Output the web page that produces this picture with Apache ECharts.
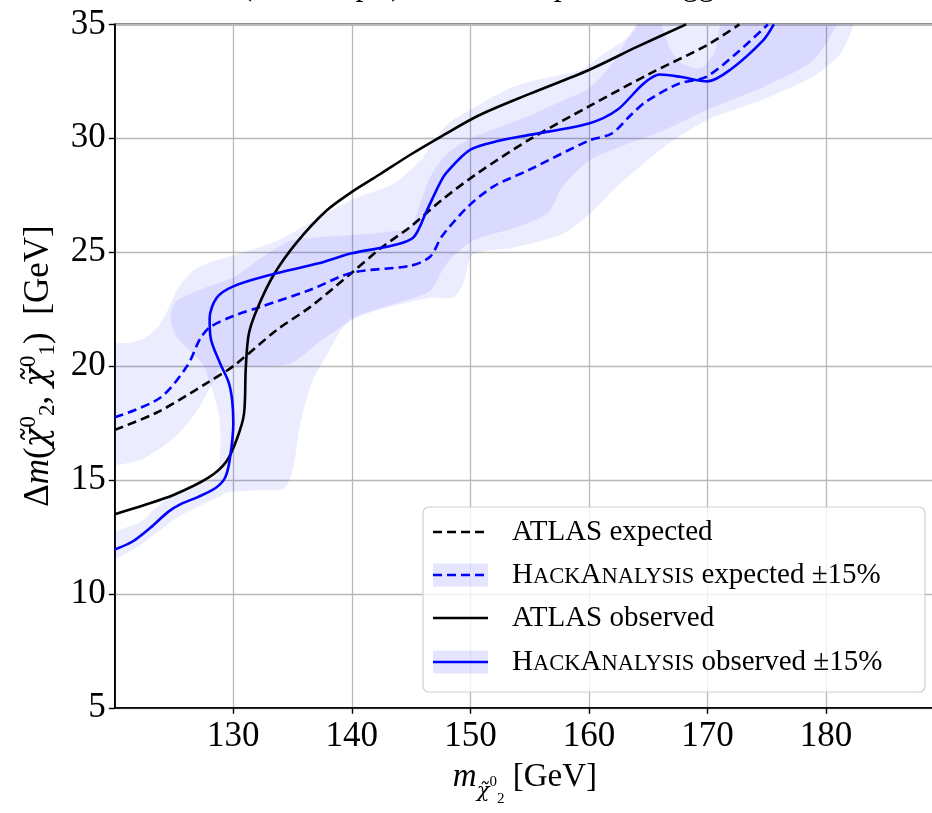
<!DOCTYPE html>
<html>
<head>
<meta charset="utf-8">
<script src="https://cdn.jsdelivr.net/npm/echarts@6/dist/echarts.min.js"></script>
<style>
  html, body { margin: 0; padding: 0; background: #ffffff; }
  #chart { width: 932px; height: 813px; }
</style>
</head>
<body>
<div id="chart"></div>
<script>
// Exclusion contours in the (m_chi20, delta m) plane, GeV.
const atlasExpected = [
  [120, 17.2], [123.7, 18.0], [127.9, 19.3], [130, 20.0], [133.7, 21.6], [136.5, 22.6],
  [140, 24.1], [142.5, 25.2], [144.9, 26.1], [147.6, 27.3], [150.7, 28.5], [155, 29.95],
  [160, 31.4], [165, 32.8], [170, 34.1], [172.7, 35.0]
];
const hackExpected = [
  [120, 17.75], [123.8, 18.6], [126.1, 20.0], [127.2, 21.2], [128, 21.7], [130, 22.2],
  [132.3, 22.6], [136.5, 23.35], [140, 24.1], [144.9, 24.4], [146.6, 24.8], [147.6, 25.7],
  [149.8, 27.0], [152, 27.9], [154.9, 28.6], [160, 29.9], [161.9, 30.2], [163.5, 31.0],
  [164.8, 31.6], [167.6, 32.4], [169.9, 32.7], [172.6, 33.8], [174.9, 34.9], [175.1, 35.0]
];
const atlasObserved = [
  [120, 13.5], [122.5, 13.9], [125, 14.35], [127.9, 15.1], [129.4, 15.8], [130.3, 16.8],
  [130.9, 17.9], [131.05, 19.9], [131.3, 21.4], [132, 22.5], [133.4, 24.0], [135.3, 25.4],
  [137.8, 26.8], [140, 27.65], [142.3, 28.4], [145, 29.3], [147.6, 30.1], [150.7, 31.0],
  [155, 31.95], [160, 33.0], [164, 34.0], [168.2, 35.0]
];
const hackObserved = [
  [120, 11.95], [121.5, 12.3], [123, 12.9], [124.5, 13.6], [125.6, 13.95], [127, 14.25],
  [128.5, 14.65], [129.3, 15.1], [129.7, 15.9], [130, 17.5], [129.9, 18.5],
  [129.6, 19.3], [128.9, 20.1], [128.1, 21.2], [128.0, 22.1], [128.6, 23.0], [130, 23.5],
  [133.1, 24.0], [137.1, 24.5], [140, 24.95], [143.5, 25.3], [145.2, 25.65], [146.3, 26.8],
  [147.4, 28.0], [148, 28.5], [150, 29.5], [152.5, 29.9], [155, 30.15], [160, 30.65],
  [162.4, 31.25], [164.6, 32.4], [166, 32.8], [167.7, 32.7], [170, 32.5], [171.9, 33.0],
  [174.7, 34.3], [175.6, 35.0]
];

// ±15% bands: upper edge (left to right) and lower edge (left to right).
const expBandUpper = [
  [119, 21.0], [120, 21.0], [121.5, 21.05], [122.6, 21.25], [123.6, 21.7], [124.4, 22.4],
  [125.3, 23.4], [126.6, 24.2], [128, 24.55], [130, 24.85], [133.7, 25.5], [136.5, 26.3],
  [140, 27.3], [143.5, 28.0], [145.8, 29.05], [148, 30.6], [150.8, 31.5], [153.6, 32.25],
  [155.9, 32.6], [159.3, 33.0], [161.2, 33.7], [163.5, 34.5], [164.6, 35.2], [172, 35.5],
  [182, 35.5]
];
const expBandLower = [
  [119, 15.6], [120, 15.65], [122.3, 15.9], [125.1, 16.9], [126.9, 18.0], [128.2, 19.2],
  [129, 19.9], [131, 20.0], [134.8, 20.1], [137.1, 21.0], [140, 22.0], [142.1, 22.45],
  [146.6, 23.0], [148.5, 23.0], [149.4, 23.6], [150.2, 24.9], [153.6, 25.2], [157.8, 25.8],
  [160.1, 26.7], [162.4, 27.9], [166.3, 29.6], [170, 30.8], [174.7, 31.7], [178.9, 32.7],
  [181.2, 33.7], [182.3, 34.9], [182.6, 35.5]
];
const obsBandUpper = [
  [119, 12.6], [120, 12.75], [122.3, 13.2], [123.5, 13.8], [125.1, 14.4], [127.3, 14.9],
  [128.6, 15.2], [128.9, 16.5], [128.8, 17.8], [128.2, 19.0], [127.4, 20.1], [125.2, 21.3],
  [124.7, 22.1], [125.1, 22.8], [126.9, 23.3], [130, 23.9], [132.5, 24.8], [134.8, 25.5],
  [137, 25.65], [140, 25.75], [143, 25.9], [144.9, 26.1], [145.8, 27.2], [146.6, 28.3],
  [148, 29.3], [150, 30.0], [153, 30.6], [155, 31.0], [158, 31.7], [160, 32.2], [162, 33.3],
  [163.5, 34.6], [164.5, 35.3], [165.8, 35.3], [166.8, 34.0], [167.8, 33.3], [169.5, 33.1],
  [170.6, 33.8], [171.5, 35.3], [181, 35.5]
];
const obsBandLower = [
  [119, 11.2], [120, 11.5], [122.3, 12.2], [125.1, 13.3], [127.3, 13.9], [128.9, 14.3],
  [129.5, 14.45], [132, 14.55], [134.2, 14.6], [134.9, 15.2], [135.3, 16.3], [135.6, 17.3],
  [136.2, 18.6], [136.8, 19.5], [137.9, 20.5], [139, 21.5], [140, 22.1], [142.1, 22.5],
  [144, 22.8], [146.6, 23.3], [148, 24.5], [150.2, 25.5], [153.6, 26.05], [156.5, 26.7],
  [157.8, 27.9], [160.1, 29.05], [163.5, 29.8], [166.3, 30.35], [170, 31.25], [174.7, 32.25],
  [178.9, 33.4], [180.9, 35.0], [181, 35.5]
];

const xTicks = [130, 140, 150, 160, 170, 180];
const yTicks = [5, 10, 15, 20, 25, 30, 35];

const legendNames = [
  'ATLAS expected',
  'HackAnalysis expected ±15%',
  'ATLAS observed',
  'HackAnalysis observed ±15%'
];

const SERIF = '"Liberation Serif", "DejaVu Serif", serif';
const GREEK = '"DejaVu Serif", serif';
const BLUE = '#0000ff';
const BAND = 'rgba(0, 0, 255, 0.075)';

function closeBand(upper, lower) {
  return upper.concat(lower.slice().reverse());
}
const expBand = closeBand(expBandUpper, expBandLower);
const obsBand = closeBand(obsBandUpper, obsBandLower);

function bandRenderer(poly) {
  return function (params, api) {
    if (params.dataIndex !== 0) return null;
    const pts = poly.map(function (p) { return api.coord(p); });
    return {
      type: 'polygon',
      shape: { points: pts, smooth: 0.25 },
      style: { fill: BAND, stroke: null }
    };
  };
}

// small-caps program name for the legend
const HACK = '{b|H}{s|ACK}{b|A}{s|NALYSIS}';
const LEG_FS = 29;
const legendRich = {
  b: { fontSize: LEG_FS, fontFamily: SERIF, color: '#000' },
  s: { fontSize: 22.5, fontFamily: SERIF, color: '#000', verticalAlign: 'bottom', padding: [0, 0, 1, 0] }
};

const legendRows = [
  { y: 532, text: 'ATLAS expected', color: '#000', dash: [9, 5], patch: false },
  { y: 575, text: HACK + ' expected ±15%', color: BLUE, dash: [9, 5], patch: true },
  { y: 618, text: 'ATLAS observed', color: '#000', dash: null, patch: false },
  { y: 662, text: HACK + ' observed ±15%', color: BLUE, dash: null, patch: true }
];

const graphics = [{
  type: 'rect',
  shape: { x: 423, y: 507, width: 502, height: 185, r: 6 },
  style: { fill: 'rgba(255,255,255,0.8)', stroke: '#cfcfcf', lineWidth: 1.2 },
  z: 100
}];
legendRows.forEach(function (row, i) {
  if (row.patch) {
    graphics.push({
      type: 'rect',
      shape: { x: 433, y: row.y - 11.5, width: 55, height: 23 },
      style: { fill: 'rgba(0, 0, 255, 0.1)' },
      z: 101
    });
  }
  graphics.push({
    type: 'line',
    shape: { x1: 433, y1: row.y, x2: 488, y2: row.y },
    style: { stroke: row.color, lineWidth: 2.5, lineDash: row.dash },
    z: 102
  });
  graphics.push({
    type: 'text',
    name: legendNames[i],
    x: 512, y: row.y,
    style: {
      text: row.text,
      rich: legendRich,
      fontSize: LEG_FS, fontFamily: SERIF, fill: '#000',
      verticalAlign: 'middle', align: 'left'
    },
    z: 102
  });
});

// plot heading, mostly above the visible area
graphics.push({
  type: 'text',
  x: 134, y: -13,
  style: {
    text: 'ATLAS (2ℓ, soft pT) limits, compressed higgsino',
    fontSize: 32, fontFamily: SERIF, fill: '#000',
    verticalAlign: 'middle', align: 'left'
  },
  z: 50
});

const chart = echarts.init(document.getElementById('chart'), null, { renderer: 'canvas' });

function lineSeries(name, data, color, dashed) {
  return {
    name: name,
    type: 'line',
    data: data,
    smooth: 0.3,
    symbol: 'none',
    clip: true,
    lineStyle: { color: color, width: 2.6, type: dashed ? [9, 5] : 'solid' },
    itemStyle: { color: color },
    z: 5
  };
}

// rich styles for the axis titles: main line height 80, sub/superscripts shifted by padding
const axisNameRich = {
  n: { fontSize: 33, fontFamily: SERIF, lineHeight: 80, color: '#000' },
  i: { fontSize: 33, fontStyle: 'italic', fontFamily: SERIF, lineHeight: 80, color: '#000' },
  yn: { fontSize: 35, fontFamily: SERIF, lineHeight: 80, color: '#000' },
  yi: { fontSize: 35, fontStyle: 'italic', fontFamily: SERIF, lineHeight: 80, color: '#000' },
  g: { fontSize: 33, fontStyle: 'italic', fontFamily: GREEK, lineHeight: 80, color: '#000' },
  // x title
  xs: { fontSize: 21, fontStyle: 'italic', fontFamily: GREEK, verticalAlign: 'bottom', padding: [0, 0, 16, 0], color: '#000' },
  xsp: { fontSize: 15, fontFamily: SERIF, verticalAlign: 'bottom', padding: [0, 0, 28, 0], color: '#000' },
  xsb: { fontSize: 15, fontFamily: SERIF, verticalAlign: 'bottom', padding: [0, 0, 11, 0], color: '#000' },
  // y title
  sp: { fontSize: 23, fontFamily: SERIF, verticalAlign: 'top', padding: [19, 0, 0, 0], color: '#000' },
  sb: { fontSize: 23, fontFamily: SERIF, verticalAlign: 'bottom', padding: [0, 0, 19, 0], color: '#000' }
};

chart.setOption({
  animation: false,
  backgroundColor: '#ffffff',
  grid: {
    left: 114.8, right: -3, top: 24.4, bottom: 105.2,
    outerBoundsMode: 'none',
    containLabel: false,
    show: true, borderColor: '#000', borderWidth: 1.6, backgroundColor: 'transparent'
  },
  xAxis: {
    type: 'value',
    min: 120, max: 189.2, interval: 10,
    name: '{i|m}{xs|χ̃}{xsp|0}{xsb|2}{n| [GeV]}',
    nameLocation: 'middle',
    nameGap: 30,
    nameTextStyle: { color: '#000', fontFamily: SERIF, fontSize: 33, rich: axisNameRich },
    axisLine: { show: true, onZero: false, lineStyle: { color: '#000', width: 1.6 } },
    axisTick: {
      show: true, inside: false, length: 6, customValues: xTicks,
      lineStyle: { color: '#000', width: 1.4 }
    },
    axisLabel: {
      show: true, margin: 12, color: '#000', fontFamily: SERIF, fontSize: 35,
      customValues: xTicks
    },
    splitLine: { show: true, lineStyle: { color: '#b8b8b8', width: 1.3 } }
  },
  yAxis: {
    type: 'value',
    min: 5, max: 35, interval: 5,
    name: '{yn|Δ}{yi|m}{yn|(}{g|χ̃}{sp|0}{sb|2}{yn|, }{g|χ̃}{sp|0}{sb|1}{yn|)  [GeV]}',
    nameLocation: 'middle',
    nameGap: 29,
    nameTextStyle: { color: '#000', fontFamily: SERIF, fontSize: 35, rich: axisNameRich },
    axisLine: { show: true, onZero: false, lineStyle: { color: '#000', width: 1.6 } },
    axisTick: {
      show: true, inside: false, length: 6, customValues: yTicks,
      lineStyle: { color: '#000', width: 1.4 }
    },
    axisLabel: {
      show: true, margin: 9, color: '#000', fontFamily: SERIF, fontSize: 35,
      customValues: yTicks
    },
    splitLine: { show: true, lineStyle: { color: '#b8b8b8', width: 1.3 } }
  },
  series: [
    {
      name: legendNames[1] + ' band',
      type: 'custom',
      renderItem: bandRenderer(expBand),
      data: expBand,
      encode: { x: 0, y: 1 },
      clip: true,
      silent: true,
      z: 2
    },
    {
      name: legendNames[3] + ' band',
      type: 'custom',
      renderItem: bandRenderer(obsBand),
      data: obsBand,
      encode: { x: 0, y: 1 },
      clip: true,
      silent: true,
      z: 2
    },
    lineSeries(legendNames[0], atlasExpected, '#000', true),
    lineSeries(legendNames[1], hackExpected, BLUE, true),
    lineSeries(legendNames[2], atlasObserved, '#000', false),
    lineSeries(legendNames[3], hackObserved, BLUE, false)
  ],
  graphic: { elements: graphics }
});
</script>
</body>
</html>
